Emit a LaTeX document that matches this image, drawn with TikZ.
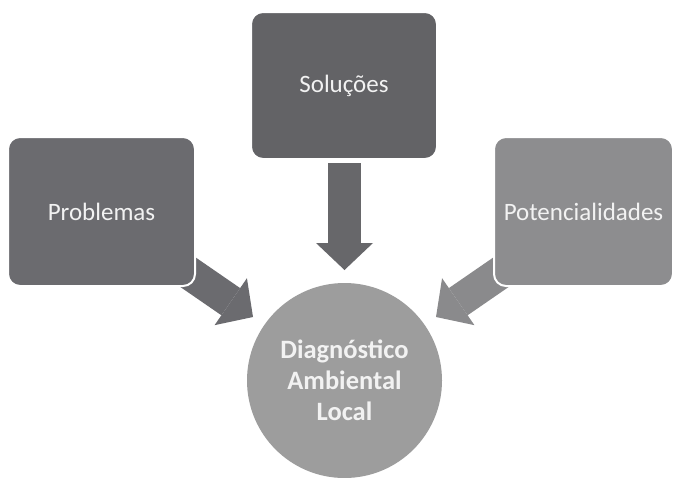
\documentclass[tikz,border=0pt]{standalone}
\usepackage{fontspec}
\setmainfont{Carlito}
\usetikzlibrary{arrows.meta}
\definecolor{cprob}{HTML}{6B6B6F}
\definecolor{csol}{HTML}{636366}
\definecolor{cpot}{HTML}{8D8D8F}
\definecolor{ccirc}{HTML}{9D9D9D}
\definecolor{atxt}{HTML}{F2F2F2}
\definecolor{aprob}{HTML}{6B6B6F}
\definecolor{asol}{HTML}{67676A}
\definecolor{apot}{HTML}{8A8A8C}
\tikzset{
  boxnode/.style={rectangle, rounded corners=12pt, draw=white, line width=2pt,
    text=atxt, font=\fontsize{25}{30}\selectfont, inner sep=0pt},
  fatarrow/.style={line width=33pt,
    -{Triangle[length=27pt, width=57pt, line width=0pt]}},
}
\begin{document}
\begin{tikzpicture}[x=1pt, y=-1pt]
\useasboundingbox[fill=white] (0,0) rectangle (674,477);
% arrow coordinates
\coordinate (sS) at (344.5,163);
\coordinate (sE) at (344.5,270);
\coordinate (pS) at (164.9,256.3);
\coordinate (pE) at (253,317);
\coordinate (tS) at (524.1,256.3);
\coordinate (tE) at (436,317);
% arrows
\draw[fatarrow, draw=aprob, fill=aprob] (pS) -- (pE);
\draw[fatarrow, draw=apot, fill=apot] (tS) -- (tE);
\draw[fatarrow, draw=asol, fill=asol] (sS) -- (sE);
% boxes
\node[boxnode, fill=cprob, minimum width=187pt, minimum height=149pt] (prob) at (101.5,211.5) {Problemas};
\node[boxnode, fill=csol, minimum width=186pt, minimum height=147pt] (sol) at (344,85.5) {Soluções};
\node[boxnode, fill=cpot, minimum width=179pt, minimum height=149pt] (pot) at (583.5,211.5) {Potencialidades};
% circle
\node[circle, fill=ccirc, minimum size=195pt, inner sep=0pt, text=atxt, align=center,
  font=\bfseries\fontsize{26.5}{31}\selectfont] (diag) at (344.5,380.5)
  {Diagnóstico\\Ambiental\\Local};
\end{tikzpicture}
\end{document}
